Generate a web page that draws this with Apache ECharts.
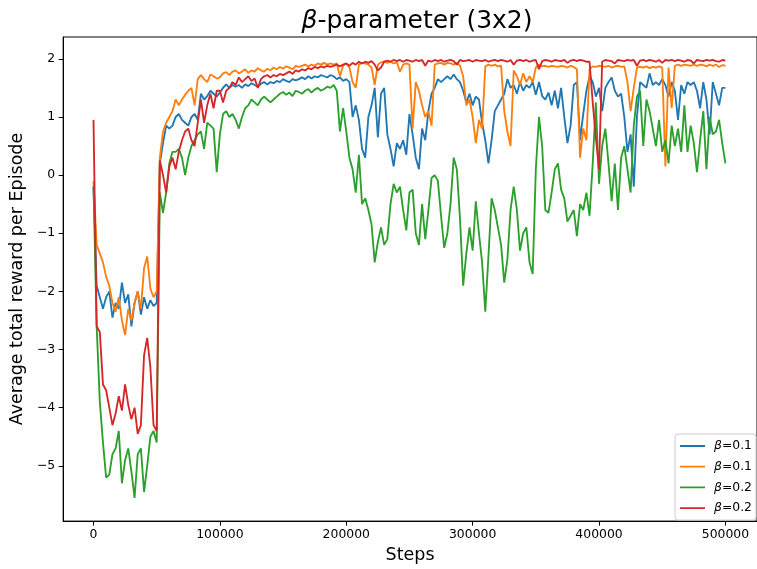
<!DOCTYPE html>
<html>
<head>
<meta charset="utf-8">
<script src="https://cdn.jsdelivr.net/npm/echarts@6/dist/echarts.min.js"></script>
<style>
  html, body { margin: 0; padding: 0; background: #fff; }
  #chart { width: 757px; height: 569px; }
</style>
</head>
<body>
<div id="chart"></div>
<script>
// one value every 2500 steps, 0 .. 500000
const STEP = 2500;

const blue = [
  -0.2, -1.9, -2.1, -2.3, -2.1, -2.0, -2.45, -2.2, -2.3, -1.85,
  -2.2, -2.05, -2.6, -2.2, -2.0, -2.4, -2.1, -2.3, -2.15, -2.25,
  -2.2, 0.2, 0.55, 0.85, 0.8, 0.85, 1.0, 1.05, 0.95, 0.9,
  0.85, 1.0, 1.05, 0.95, 1.4, 1.3, 1.36, 1.45, 1.4, 1.35,
  1.42, 1.5, 1.56, 1.5, 1.55, 1.52, 1.55, 1.5, 1.56, 1.53,
  1.58, 1.55, 1.52, 1.57, 1.6, 1.56, 1.6, 1.58, 1.62, 1.6,
  1.65, 1.62, 1.6, 1.65, 1.63, 1.65, 1.68, 1.65, 1.7, 1.66,
  1.7, 1.68, 1.72, 1.7, 1.68, 1.72, 1.7, 1.65, 1.68, 1.62,
  1.65, 1.6, 1.0, 1.2, 0.95, 0.45, 0.3, 1.0, 1.2, 1.5,
  0.65, 1.4, 1.5, 0.7, 0.45, 0.15, 0.55, 0.45, 0.6, 0.35,
  1.05, 0.7, 0.3, 0.1, 0.8, 0.6, 1.1, 1.4, 1.5, 1.65,
  1.6, 1.65, 1.7, 1.65, 1.73, 1.65, 1.6, 1.45, 1.25, 1.4,
  1.2, 1.35, 1.3, 0.9, 0.6, 0.2, 0.6, 1.1, 1.2, 1.3,
  1.4, 1.65, 1.5, 1.55, 1.4, 1.6, 1.45, 1.55, 1.5, 1.6,
  1.38, 1.6, 1.36, 1.3, 1.42, 1.2, 1.45, 1.15, 1.5, 1.0,
  0.55, 0.85, 1.55, 1.6, 0.6, 1.05, 1.45, 1.7, 1.6, 1.35,
  1.5, 1.1, 1.5, 1.6, 1.68, 1.45, 1.35, 1.4, 1.0, 0.4,
  0.7, -0.2, 1.0, 1.6, 1.55, 1.5, 1.75, 1.55, 1.6, 1.55,
  1.65, 1.55, 1.35, 1.6, 1.45, 0.95, 1.55, 1.4, 1.6, 1.55,
  1.6, 1.45, 1.15, 1.6, 1.3, 0.7, 1.6, 1.4, 1.2, 1.5,
  1.5
];

const orange = [
  -0.1, -1.2, -1.35, -1.5, -1.75, -1.9, -2.2, -2.35, -2.1, -2.5,
  -2.75, -2.3, -2.5, -2.2, -2.0, -2.3, -1.6, -1.4, -1.95, -2.1,
  -2.0, 0.3, 0.75, 0.9, 1.0, 1.1, 1.3, 1.2, 1.3, 1.38,
  1.45, 1.5, 1.2, 1.65, 1.72, 1.65, 1.6, 1.73, 1.7, 1.66,
  1.68, 1.75, 1.77, 1.72, 1.78, 1.8, 1.75, 1.78, 1.82, 1.76,
  1.8, 1.78, 1.84, 1.8, 1.78, 1.83, 1.8, 1.85, 1.82, 1.86,
  1.83, 1.87, 1.85, 1.82, 1.88, 1.86, 1.88, 1.9, 1.87, 1.9,
  1.88, 1.92, 1.9, 1.93, 1.9, 1.92, 1.9, 1.92, 1.7, 1.88,
  1.92, 1.85, 1.6, 1.5, 1.9, 1.93, 1.92, 1.9, 1.85, 1.55,
  1.9, 1.94, 1.95, 1.93, 1.95, 1.92, 1.94, 1.78, 1.9, 1.92,
  1.9, 0.8, 1.6, 1.45, 1.2, 1.0, 1.1, 0.85, 1.9, 1.92,
  1.93, 1.9, 1.93, 1.92, 1.9, 1.93, 1.88, 1.7, 1.2, 1.3,
  1.0, 0.55, 0.95, 0.8, 1.87, 1.9, 1.88, 1.9, 1.87, 1.88,
  1.1, 0.75, 0.5, 1.8, 1.7, 1.55, 1.75, 1.6, 1.7, 1.6,
  1.85, 1.9, 1.87, 1.88, 1.86, 1.88, 1.87, 1.86, 1.88, 1.87,
  1.85, 1.88, 1.86, 1.82, 0.3, 0.8, 0.6, 1.82, 1.87, 1.86,
  1.88, 1.87, 1.86, 1.88, 1.85, 1.87, 1.88, 1.86, 1.87, 1.6,
  1.1, 1.5, 1.85, 1.86, 1.85, 1.87, 1.84, 1.86, 1.85, 1.87,
  1.85, 0.15, 1.85, 1.15, 1.88, 1.9, 1.88, 1.9, 1.89, 1.88,
  1.9, 1.88, 1.9, 1.89, 1.87, 1.9, 1.88, 1.9, 1.86, 1.89,
  1.88
];

const green = [
  -0.2, -2.6, -3.9, -4.6, -5.2, -5.15, -4.8, -4.7, -4.4, -5.3,
  -4.9, -4.7, -5.1, -5.55, -4.8, -4.7, -5.45, -5.0, -4.5, -4.4,
  -4.6, -0.3, -0.65, -0.3, 0.2, 0.4, 0.4, 0.45, 0.3, 0.0,
  0.3, 0.5, 0.6, 0.7, 0.75, 0.45, 0.9, 0.85, 0.8, 0.05,
  0.7, 1.05, 1.1, 1.0, 1.05, 0.95, 0.8, 1.0, 1.15, 1.2,
  1.3, 1.25, 1.2, 1.3, 1.35, 1.3, 1.25, 1.3, 1.35, 1.4,
  1.43, 1.38, 1.42, 1.36, 1.45, 1.43, 1.4, 1.45, 1.48, 1.42,
  1.47, 1.5, 1.45, 1.48, 1.52, 1.5, 1.55, 1.45, 0.75, 1.15,
  0.75, 0.3, 0.1, -0.3, 0.35, -0.5, -0.4, -0.6, -0.85, -1.5,
  -1.15, -0.9, -1.2, -1.1, -0.5, -0.15, -0.3, -0.2, -0.6, -0.95,
  -0.3, -0.25, -1.0, -1.2, -0.5, -1.1, -0.6, -0.05, 0.0, -0.1,
  -0.7, -1.25, -1.0, -0.5, 0.3, 0.1, -0.75, -1.9, -1.35, -0.9,
  -1.3, -0.45, -1.0, -1.5, -2.35, -1.4, -0.4, -0.6, -0.9, -1.2,
  -1.85, -1.45, -0.6, -0.2, -0.6, -1.3, -1.0, -0.9, -1.5, -1.7,
  0.1, 1.0, 0.5, -0.6, -0.65, -0.3, 0.1, 0.2, -0.25, -0.4,
  -0.8, -0.7, -0.6, -1.05, -0.5, -0.6, -0.3, -0.7, 0.2, 1.25,
  -0.15, 0.5, 0.8, 0.2, -0.45, 0.2, -0.6, 0.3, 0.5, 0.1,
  -0.3, 0.85, 1.35, 1.45, 0.5, 1.3, 1.1, 0.8, 0.5, 0.95,
  0.4, 0.6, 0.2, 0.85, 0.5, 0.8, 0.4, 1.2, 0.4, 0.85,
  0.55, 0.05, 0.6, 1.1, 0.1, 1.0, 0.7, 0.75, 0.95, 0.55,
  0.2
];

const red = [
  0.95, -2.6, -2.7, -3.6, -3.7, -4.0, -4.3, -4.1, -3.8, -4.05,
  -3.6, -3.95, -4.2, -4.0, -4.45, -4.3, -3.1, -2.8, -3.3, -4.3,
  -4.4, 0.25, 0.0, -0.3, 0.15, 0.3, 0.1, 0.4, 0.6, 0.75,
  0.8, 0.6, 0.5, 0.9, 1.3, 0.9, 1.2, 1.4, 1.15, 1.45,
  1.45, 1.25, 1.45, 1.5, 1.6, 1.55, 1.68, 1.6, 1.65, 1.7,
  1.62, 1.66, 1.5, 1.65, 1.7, 1.72, 1.68, 1.72, 1.7, 1.74,
  1.72, 1.75, 1.78, 1.74, 1.8, 1.78, 1.82, 1.8, 1.84, 1.82,
  1.86, 1.84, 1.87, 1.85, 1.88, 1.86, 1.88, 1.9, 1.87, 1.9,
  1.92, 1.88, 1.93, 1.9, 1.95, 1.92, 1.95, 1.93, 1.96, 1.9,
  1.8, 1.85, 1.95, 1.97, 1.95, 1.98, 1.96, 1.98, 1.95, 1.98,
  1.97, 1.95, 1.98, 1.96, 1.98, 1.88, 1.97, 1.95, 1.98, 1.96,
  1.98, 1.95, 1.97, 1.98, 1.96, 1.9, 1.98, 1.96, 1.97, 1.98,
  1.95, 1.98, 1.97, 1.96, 1.98, 1.95, 1.97, 1.98, 1.96, 1.98,
  1.97, 1.95, 1.98, 1.9, 1.97, 1.98, 1.96, 1.98, 1.95, 1.97,
  1.98, 1.82, 1.96, 1.98, 1.97, 1.95, 1.98, 1.97, 1.96, 1.98,
  1.93, 1.97, 1.98, 1.96, 1.98, 1.97, 1.95, 1.95, 1.25, 0.65,
  0.1, 1.95, 1.98, 1.97, 1.96, 1.92, 1.98, 1.97, 1.96, 1.98,
  1.97, 1.98, 1.88, 1.97, 1.98, 1.96, 1.98, 1.97, 1.95, 1.98,
  1.93, 1.98, 1.97, 1.98, 1.96, 1.98, 1.97, 1.95, 1.98, 1.97,
  1.92, 1.98, 1.97, 1.96, 1.98, 1.97, 1.98, 1.96, 1.95, 1.98,
  1.97
];

const legendLabels = ["β=0.1", "β=0.1", "β=0.2", "β=0.2"];
const colors = ["#1f77b4", "#ff7f0e", "#2ca02c", "#d62728"];
const xTicks = [0, 100000, 200000, 300000, 400000, 500000];
const yTicks = [-5, -4, -3, -2, -1, 0, 1, 2];

const FONT = "DejaVu Sans";
const seriesValues = [blue, orange, green, red];
const steps = blue.map((_, i) => i * STEP);

// legend handle: a thin bar centred in a 25x14 box (tiny corner marks fix the box)
const LINE_ICON = "path://M0,0L0.01,0L0,0.01Z M0,6.1H25V7.9H0Z M25,14L24.99,14L25,13.99Z";

const chart = echarts.init(document.getElementById("chart"));

const option = {
  animation: false,
  backgroundColor: "#fff",
  title: {
    text: "{b|β}-parameter (3x2)",
    left: 412,
    top: 4,
    textAlign: "center",
    textStyle: {
      fontFamily: FONT,
      fontSize: 25,
      fontWeight: "normal",
      color: "#000",
      rich: {
        b: { fontFamily: FONT, fontSize: 25, fontStyle: "italic", color: "#000" },
      },
    },
  },
  grid: {
    left: 61,
    right: -7,
    top: 37,
    bottom: 42,
    show: true,
    borderColor: "#000",
    borderWidth: 1,
    containLabel: false,
  },
  legend: {
    orient: "vertical",
    right: 1,
    top: 434,
    padding: [5, 4, 5, 5],
    icon: LINE_ICON,
    itemWidth: 25,
    itemHeight: 14,
    itemGap: 6.7,
    backgroundColor: "rgba(255,255,255,0.8)",
    borderColor: "#cccccc",
    borderWidth: 1,
    borderRadius: 3,
    data: legendLabels.map((_, i) => "s" + i),
    formatter: (name) => {
      const label = legendLabels[Number(name.slice(1))];
      return label.replace("β", "{b|β}");
    },
    textStyle: {
      fontFamily: FONT,
      fontSize: 12.4,
      color: "#000",
      padding: [0, 0, 0, 4],
      rich: {
        b: { fontFamily: FONT, fontSize: 12.4, fontStyle: "italic", color: "#000" },
      },
    },
  },
  xAxis: {
    type: "value",
    min: -24000,
    max: 525000,
    name: "Steps",
    nameLocation: "middle",
    nameGap: 24,
    nameTextStyle: { fontFamily: FONT, fontSize: 17.5, color: "#000" },
    axisLine: { show: true, onZero: false, lineStyle: { color: "#000", width: 1 } },
    axisTick: { show: true, inside: false, length: 4.5, customValues: xTicks, lineStyle: { color: "#000" } },
    axisLabel: {
      customValues: xTicks,
      margin: 8,
      fontFamily: FONT,
      fontSize: 12.4,
      color: "#000",
      formatter: (v) => String(v),
    },
    splitLine: { show: false },
  },
  yAxis: {
    type: "value",
    min: -5.95,
    max: 2.375,
    name: "Average total reward per Episode",
    nameLocation: "middle",
    nameGap: 32,
    nameTextStyle: { fontFamily: FONT, fontSize: 17.5, color: "#000" },
    axisLine: { show: true, onZero: false, lineStyle: { color: "#000", width: 1 } },
    axisTick: { show: true, inside: false, length: 4.5, customValues: yTicks, lineStyle: { color: "#000" } },
    axisLabel: {
      customValues: yTicks,
      margin: 8,
      fontFamily: FONT,
      fontSize: 12.4,
      color: "#000",
      formatter: (v) => (v < 0 ? "\u2212" + Math.abs(v) : String(v)),
    },
    splitLine: { show: false },
  },
  series: seriesValues.map((vals, i) => ({
    name: "s" + i,
    type: "line",
    symbol: "none",
    showSymbol: false,
    data: steps.map((x, j) => [x, vals[j]]),
    lineStyle: { color: colors[i], width: 1.85 },
    itemStyle: { color: colors[i] },
    emphasis: { disabled: true },
  })),
};

chart.setOption(option);
</script>
</body>
</html>
